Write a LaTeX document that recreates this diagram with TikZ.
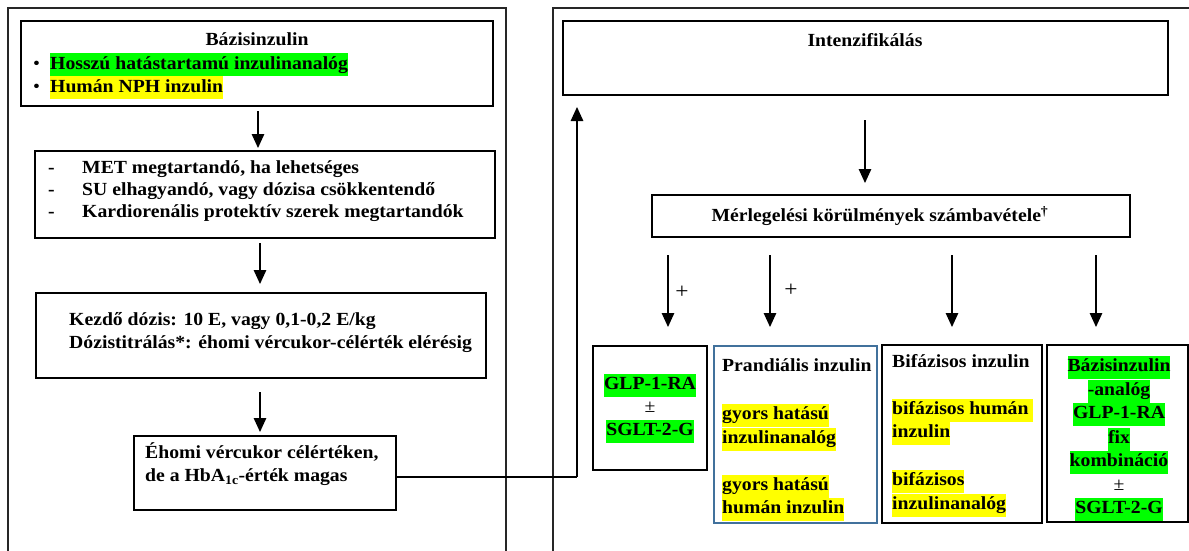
\documentclass[tikz,border=0pt]{standalone}
\usepackage{fontspec}
\setmainfont{Liberation Serif}[FakeStretch=1.065]
\usetikzlibrary{arrows.meta}
\definecolor{hlgreen}{HTML}{00FF00}
\definecolor{hlyellow}{HTML}{FFFF00}
\definecolor{bluebox}{HTML}{41719C}
\newcommand\hlg[1]{{\setlength{\fboxsep}{0pt}\colorbox{hlgreen}{\strut #1}}}
\newcommand\hly[1]{{\setlength{\fboxsep}{0pt}\colorbox{hlyellow}{\strut #1}}}
\tikzset{
  panel/.style={line width=1.6pt, draw=black!85},
  box/.style={draw, line width=1.3pt, inner sep=0pt, fill=none},
  txt/.style={inner sep=0pt, font=\bfseries\fontsize{18.5}{23}\selectfont, execute at begin node=\strut},
  plain/.style={inner sep=0pt, font=\mdseries\fontsize{18.5}{23}\selectfont, execute at begin node=\strut},
  plus/.style={inner sep=0pt, font=\mdseries\fontsize{22}{23}\selectfont},
  arr/.style={line width=1.3pt, -{Triangle[width=12.5pt,length=14pt]}},
  conn/.style={line width=1.3pt},
}
\begin{document}
\begin{tikzpicture}[x=1pt,y=-1pt]
\useasboundingbox (0,0) rectangle (1189,551);
% panels
\draw[panel] (8,551) -- (8,8) -- (506,8) -- (506,551);
\draw[panel] (553,551) -- (553,8) -- (1189,8);

% left column boxes
\node[box, minimum width=472pt, minimum height=85pt] (b1) at (257,63.5) {};
\node[box, minimum width=460pt, minimum height=87pt] (b2) at (265,194.5) {};
\node[box, minimum width=450pt, minimum height=85pt] (b3) at (261,335.5) {};
\node[box, minimum width=262pt, minimum height=74pt] (b4) at (265,473) {};

\node[txt] (b1t) at (257,41) {Bázisinzulin};
\node[plain, anchor=west] (b1d1) at (33,65) {•};
\node[txt, anchor=west] (b1l1) at (50,65) {\hlg{Hosszú hatástartamú inzulinanalóg}};
\node[plain, anchor=west] (b1d2) at (33,88) {•};
\node[txt, anchor=west] (b1l2) at (50,88) {\hly{Humán NPH inzulin}};

\node[txt, anchor=west] (b2d1) at (48,169) {-};
\node[txt, anchor=west] (b2l1) at (82,169) {MET megtartandó, ha lehetséges};
\node[txt, anchor=west] (b2d2) at (48,191) {-};
\node[txt, anchor=west] (b2l2) at (82,191) {SU elhagyandó, vagy dózisa csökkentendő};
\node[txt, anchor=west] (b2d3) at (48,213) {-};
\node[txt, anchor=west] (b2l3) at (82,213) {Kardiorenális protektív szerek megtartandók};

\node[txt, anchor=west] (b3l1) at (69,321) {Kezdő dózis: 10 E, vagy 0,1-0,2 E/kg};
\node[txt, anchor=west] (b3l2) at (69,344) {Dózistitrálás*: éhomi vércukor-célérték elérésig};

\node[txt, anchor=west] (b4l1) at (145,454) {Éhomi vércukor célértéken,};
\node[txt, anchor=west] (b4l2) at (145,477) {de a HbA\textsubscript{1c}-érték magas};

\coordinate (a1s) at (258,111);
\coordinate (a1e) at (258,148);
\coordinate (a2s) at (260,243);
\coordinate (a2e) at (260,284);
\coordinate (a3s) at (260,392);
\coordinate (a3e) at (260,432);
\draw[arr] (a1s) -- (a1e);
\draw[arr] (a2s) -- (a2e);
\draw[arr] (a3s) -- (a3e);

% right column
\node[box, minimum width=605pt, minimum height=74pt] (r1) at (865.5,58) {};
\node[txt] (r1t) at (865,42) {Intenzifikálás};
\node[box, minimum width=478pt, minimum height=42pt] (r2) at (891,216) {};
\node[txt] (r2t) at (880,217) {Mérlegelési körülmények számbavétele\textsuperscript{†}};

% connector from b4 to Intenzifikálás
\coordinate (cturn) at (577,477);
\coordinate (cend) at (577,107);
\draw[conn] (b4.east |- b4l2) -- (cturn);
\draw[arr] (cturn) -- (cend);

\coordinate (a4s) at (865,120);
\coordinate (a4e) at (865,183);
\draw[arr] (a4s) -- (a4e);

% four arrows
\coordinate (f1s) at (668,255);
\coordinate (f1e) at (668,327);
\coordinate (f2s) at (770,255);
\coordinate (f2e) at (770,327);
\coordinate (f3s) at (952,255);
\coordinate (f3e) at (952,327);
\coordinate (f4s) at (1096,255);
\coordinate (f4e) at (1096,327);
\draw[arr] (f1s) -- (f1e);
\draw[arr] (f2s) -- (f2e);
\draw[arr] (f3s) -- (f3e);
\draw[arr] (f4s) -- (f4e);
\node[plus] (p1) at (682,292) {+};
\node[plus] (p2) at (791,290) {+};

% bottom boxes
\node[box, minimum width=114pt, minimum height=124pt] (g1) at (650,408) {};
\node[box, draw=bluebox, line width=1.1pt, minimum width=163pt, minimum height=177pt] (g2) at (795.5,434.5) {};
\node[box, minimum width=160pt, minimum height=178pt] (g3) at (962,434) {};
\node[box, minimum width=141pt, minimum height=177pt] (g4) at (1117.5,433.5) {};

\node[txt] (g1l1) at (650,385) {\hlg{GLP-1-RA}};
\node[plain] (g1l2) at (650,408) {±};
\node[txt] (g1l3) at (650,431) {\hlg{SGLT-2-G}};

\node[txt, anchor=west] (g2l1) at (722,367) {Prandiális inzulin};
\node[txt, anchor=west] (g2l2) at (722,415) {\hly{gyors hatású}};
\node[txt, anchor=west] (g2l3) at (722,439) {\hly{inzulinanalóg}};
\node[txt, anchor=west] (g2l4) at (722,486) {\hly{gyors hatású}};
\node[txt, anchor=west] (g2l5) at (722,509) {\hly{humán inzulin}};

\node[txt, anchor=west] (g3l1) at (892,363) {Bifázisos inzulin};
\node[txt, anchor=west] (g3l2) at (892,410) {\hly{bifázisos humán }};
\node[txt, anchor=west] (g3l3) at (892,433) {\hly{inzulin}};
\node[txt, anchor=west] (g3l4) at (892,481) {\hly{bifázisos}};
\node[txt, anchor=west] (g3l5) at (892,505) {\hly{inzulinanalóg}};

\node[txt] (g4l1) at (1119,367) {\hlg{Bázisinzulin}};
\node[txt] (g4l2) at (1119,391) {\hlg{-analóg}};
\node[txt] (g4l3) at (1119,414) {\hlg{GLP-1-RA}};
\node[txt] (g4l4) at (1119,439) {\hlg{fix}};
\node[txt] (g4l5) at (1119,462) {\hlg{kombináció}};
\node[plain] (g4l6) at (1119,486) {±};
\node[txt] (g4l7) at (1119,509) {\hlg{SGLT-2-G}};
\end{tikzpicture}
\end{document}
